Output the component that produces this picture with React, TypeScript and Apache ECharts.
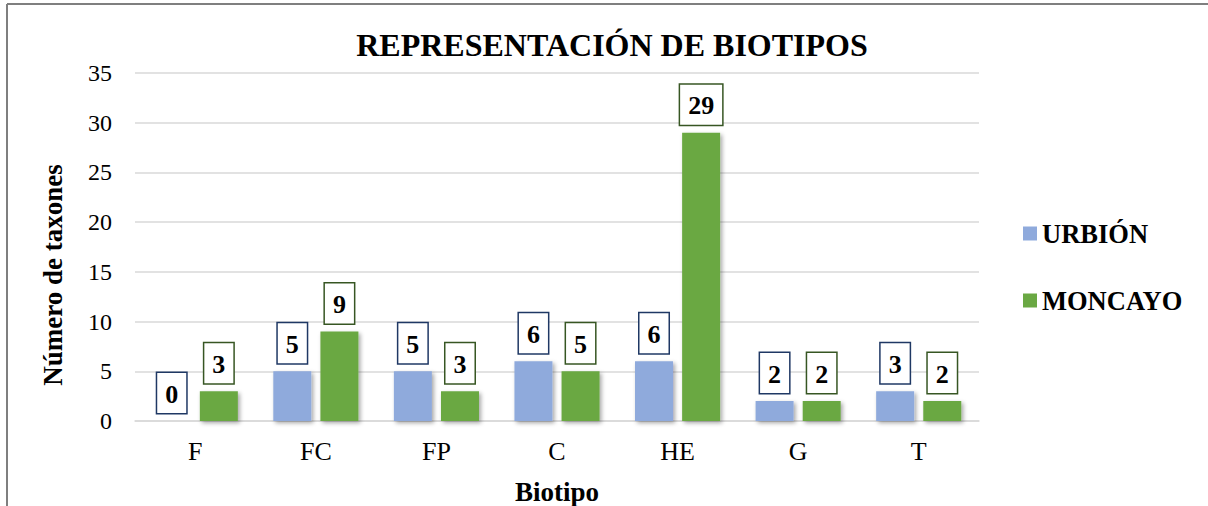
import React, { useEffect, useRef } from "react";
import * as echarts from "echarts";

const categories = ["F", "FC", "FP", "C", "HE", "G", "T"];
const urbion = [0, 5, 5, 6, 6, 2, 3];
const moncayo = [3, 9, 3, 5, 29, 2, 2];
const seriesNames = ["URBIÓN", "MONCAYO"];
const titleText = "REPRESENTACIÓN DE BIOTIPOS";
const yName = "Número de taxones";
const xName = "Biotipo";

const FONT = "'Liberation Serif', 'Times New Roman', serif";

export default function App() {
  const ref = useRef<HTMLDivElement>(null);
  useEffect(() => {
    if (!ref.current) return;
    const chart = echarts.init(ref.current, null, { renderer: "svg" });
    const mkLabel = (border: string) => ({
      show: true,
      position: "top",
      distance: 8,
      fontFamily: FONT,
      fontSize: 26,
      fontWeight: "bold",
      color: "#000",
      backgroundColor: "#fff",
      borderColor: border,
      borderWidth: 1.5,
      padding: [8, 8, 6, 8],
      lineHeight: 26,
    });
    const shadow = {
      shadowColor: "rgba(0,0,0,0.35)",
      shadowBlur: 4,
      shadowOffsetX: 2,
      shadowOffsetY: 2,
    };
    chart.setOption({
      animation: false,
      backgroundColor: "#fff",
      grid: { left: 135, right: 229, top: 73, bottom: 85, outerBoundsMode: "none", containLabel: false },
      graphic: [
        {
          type: "line",
          shape: { x1: 7, y1: 4, x2: 1208, y2: 4 },
          style: { stroke: "#7f7f7f", lineWidth: 2 },
        },
        {
          type: "line",
          shape: { x1: 7, y1: 4, x2: 7, y2: 506 },
          style: { stroke: "#7f7f7f", lineWidth: 2 },
        },
        {
          type: "text",
          x: 612,
          y: 45,
          style: {
            text: titleText,
            fontFamily: FONT,
            fontSize: 32,
            fontWeight: "bold",
            fill: "#000",
            align: "center",
            verticalAlign: "middle",
          },
        },
        {
          type: "text",
          x: 53,
          y: 275,
          rotation: Math.PI / 2,
          style: {
            text: yName,
            fontFamily: FONT,
            fontSize: 27,
            fontWeight: "bold",
            fill: "#000",
            align: "center",
            verticalAlign: "middle",
          },
        },
      ],
      legend: {
        orient: "vertical",
        left: 1018,
        top: 215,
        itemGap: 40,
        itemWidth: 14,
        itemHeight: 14,
        icon: "rect",
        data: seriesNames,
        textStyle: {
          fontFamily: FONT,
          fontSize: 26.5,
          fontWeight: "bold",
          color: "#000",
        },
      },
      xAxis: {
        type: "category",
        data: categories,
        name: xName,
        nameLocation: "middle",
        nameGap: 57,
        nameTextStyle: { fontFamily: FONT, fontSize: 27, fontWeight: "bold", color: "#000" },
        axisLine: { lineStyle: { color: "#d9d9d9", width: 1.5 } },
        axisTick: { show: false },
        axisLabel: { fontFamily: FONT, fontSize: 26, color: "#000", margin: 17 },
      },
      yAxis: {
        type: "value",
        min: 0,
        max: 35,
        interval: 5,
        axisLine: { show: false },
        axisTick: { show: false },
        axisLabel: { fontFamily: FONT, fontSize: 24, color: "#000", margin: 23 },
        splitLine: { lineStyle: { color: "#d9d9d9", width: 1.5 } },
      },
      series: [
        {
          name: seriesNames[0],
          type: "bar",
          data: urbion,
          barWidth: 38,
          barGap: "24%",
          itemStyle: { color: "#8faadc", ...shadow },
          label: mkLabel("#1f3864"),
        },
        {
          name: seriesNames[1],
          type: "bar",
          data: moncayo,
          barWidth: 38,
          barGap: "24%",
          itemStyle: { color: "#6aa843", ...shadow },
          label: mkLabel("#375623"),
        },
      ],
    });
    return () => chart.dispose();
  }, []);
  return (
    <div
      ref={ref}
      style={{ position: "fixed", left: 0, top: 0, width: 1208, height: 506 }}
    />
  );
}
